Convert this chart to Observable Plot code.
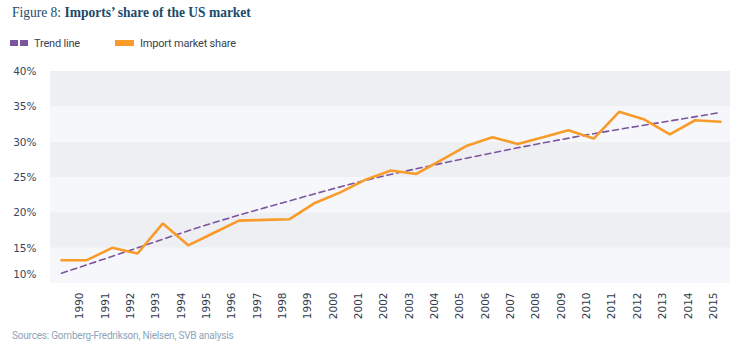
<!DOCTYPE html>
<html>
<head>
<meta charset="utf-8">
<script src="https://cdn.jsdelivr.net/npm/d3@7"></script>
<script src="https://cdn.jsdelivr.net/npm/@observablehq/plot@0.6"></script>
<style>
  html, body { margin: 0; padding: 0; background: #ffffff; }
  #wrap { position: relative; width: 739px; height: 350px; overflow: hidden; }
  #title { position: absolute; left: 12px; top: 3px; font-family: "Liberation Serif", "DejaVu Serif", serif; font-size: 15.5px; color: #1b4a6b; white-space: nowrap; transform: scaleX(0.87); transform-origin: left top; }
  #title b { font-weight: bold; }
  #legend { position: absolute; left: 10px; top: 36px; font-family: Roboto, "Liberation Sans", sans-serif; font-size: 11px; letter-spacing: -0.2px; color: #3a3f4d; white-space: nowrap; }
  .item { position: absolute; top: 0; display: flex; align-items: center; height: 14px; }
  .sw { display: inline-block; height: 6px; margin-right: 6px; }
  #chart { position: absolute; left: 0; top: 50px; }
  #footer { position: absolute; left: 12px; top: 330px; font-family: Roboto, "Liberation Sans", sans-serif; font-size: 10px; letter-spacing: -0.2px; color: #8ea3ba; white-space: nowrap; }
</style>
</head>
<body>
<div id="wrap">
  <div id="title">Figure 8: <b>Imports’ share of the US market</b></div>
  <div id="legend"></div>
  <div id="chart"></div>
  <div id="footer">Sources: Gomberg-Fredrikson, Nielsen, SVB analysis</div>
</div>
<script>
// ---- data ----
const years = [1989, 1990, 1991, 1992, 1993, 1994, 1995, 1996, 1997, 1998, 1999, 2000, 2001, 2002,
               2003, 2004, 2005, 2006, 2007, 2008, 2009, 2010, 2011, 2012, 2013, 2014, 2015];
const importShare = [13.3, 13.3, 15.05, 14.25, 18.5, 15.4, 17.15, 18.9, 19.0, 19.1, 21.4, 22.9, 24.7, 26.0,
                     25.5, 27.5, 29.5, 30.7, 29.75, 30.7, 31.7, 30.5, 34.3, 33.2, 31.1, 33.1, 32.9];
const trendYears = [1989, 1992, 1995, 1998, 2001, 2004, 2007, 2010, 2013, 2015];
const trendValues = [11.45, 15.05, 18.6, 21.7, 24.6, 27.0, 29.2, 31.2, 33.0, 34.2];
const xTickYears = [1990, 1991, 1992, 1993, 1994, 1995, 1996, 1997, 1998, 1999, 2000, 2001, 2002,
                    2003, 2004, 2005, 2006, 2007, 2008, 2009, 2010, 2011, 2012, 2013, 2014, 2015];
const yTicks = [10, 15, 20, 25, 30, 35, 40];
const seriesNames = ["Trend line", "Import market share"];
const seriesColors = ["#7b559e", "#f99b28"];

// ---- tables built from the arrays ----
const shareData = years.map((y, i) => ({year: y, value: importShare[i]}));
const trendData = trendYears.map((y, i) => ({year: y, value: trendValues[i]}));
const bands = yTicks.slice(0, -1).map((t, i) => ({y1: t, y2: yTicks[i + 1], dark: (yTicks.length - 2 - i) % 2 === 0}));

// ---- legend ----
const legend = document.getElementById("legend");
legend.innerHTML =
  `<div class="item" style="left:0px"><span class="sw" style="width:8px;background:${seriesColors[0]};margin-right:2px"></span><span class="sw" style="width:8px;background:${seriesColors[0]}"></span>${seriesNames[0]}</div>` +
  `<div class="item" style="left:105px"><span class="sw" style="width:19px;background:${seriesColors[1]}"></span>${seriesNames[1]}</div>`;

// ---- chart ----
const chart = Plot.plot({
  width: 739,
  height: 275,
  marginLeft: 50,
  marginRight: 9,
  marginTop: 21,
  marginBottom: 42,
  style: {background: "transparent", overflow: "visible"},
  x: {type: "linear", domain: [1989, 2015], insetLeft: 11, insetRight: 10},
  y: {domain: [10, 40]},
  marks: [
    Plot.rectY(bands, {y1: "y1", y2: "y2", fill: d => d.dark ? "#eeeff3" : "#f6f7fa"}),
    Plot.line(trendData, {x: "year", y: "value", curve: "natural", stroke: seriesColors[0], strokeWidth: 1.6, strokeDasharray: "6,4"}),
    Plot.line(shareData, {x: "year", y: "value", stroke: seriesColors[1], strokeWidth: 2.6, strokeLinejoin: "miter"}),
    Plot.axisY(yTicks.filter(t => t !== 10), {tickSize: 0, tickPadding: 14, tickFormat: d => d + "%", fontSize: 10.5, fontFamily: "DejaVu Sans", fill: "#3b4658", label: null}),
    Plot.axisY([10], {tickSize: 0, tickPadding: 14, dy: -9, tickFormat: d => d + "%", fontSize: 10.5, fontFamily: "DejaVu Sans", fill: "#3b4658", label: null}),
    Plot.axisX(xTickYears, {tickSize: 0, tickPadding: 9, tickRotate: -90, dx: -7, tickFormat: d => String(d), fontSize: 10.5, fontFamily: "DejaVu Sans", fill: "#333c4c", label: null})
  ]
});
document.getElementById("chart").appendChild(chart);
</script>
</body>
</html>
